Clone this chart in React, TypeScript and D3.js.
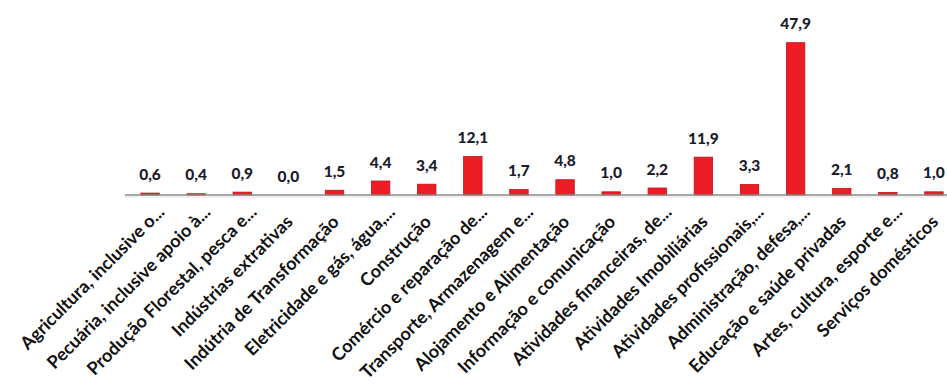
import React from "react";
import * as d3 from "d3";

const categories: string[] = [
  "Agricultura, inclusive o...",
  "Pecuária, inclusive apoio à...",
  "Produção Florestal, pesca e...",
  "Indústrias extrativas",
  "Indútria de Transformação",
  "Eletricidade e gás, água,...",
  "Construção",
  "Comércio e reparação de...",
  "Transporte, Armazenagem e...",
  "Alojamento e Alimentação",
  "Informação e comunicação",
  "Atividades financeiras, de...",
  "Atividades Imobiliárias",
  "Atividades profissionais,...",
  "Administração, defesa,...",
  "Educação e saúde privadas",
  "Artes, cultura, esporte e...",
  "Serviços domésticos",
];

const values: number[] = [
  0.6, 0.4, 0.9, 0.0, 1.5, 4.4, 3.4, 12.1, 1.7, 4.8, 1.0, 2.2, 11.9, 3.3, 47.9, 2.1, 0.8, 1.0,
];

const W = 947;
const H = 387;
const baseY = 195;
const font = "Lato, 'Open Sans', sans-serif";

const fmt = (v: number) => v.toFixed(1).replace(".", ",");
// shortened category names keep a trailing gap after the ellipsis
const isTruncated = (s: string) => s.endsWith("...");

export default function App() {
  const x = d3
    .scaleBand<string>()
    .domain(categories)
    .range([127, 957])
    .paddingInner(0.6)
    .paddingOuter(0.3);
  const y = d3.scaleLinear().domain([0, 50]).range([baseY, 36]);

  return (
    <svg
      width={W}
      height={H}
      style={{ position: "fixed", left: 0, top: 0, background: "#fff" }}
    >
      <rect width={W} height={H} fill="#fff" />
      {values.map((v, i) => {
        const c = categories[i];
        const x0 = x(c)!;
        const top = y(v);
        return (
          <g key={c}>
            {v > 0 && (
              <rect
                x={x0}
                y={top}
                width={x.bandwidth()}
                height={baseY - top}
                fill="#ee1c25"
                stroke="#c0121a"
                strokeWidth={0.8}
              />
            )}
            <text
              x={x0 + x.bandwidth() / 2}
              y={top - 13.5}
              textAnchor="middle"
              fontFamily={font}
              fontWeight={900}
              fontSize={15.5}
              fill="#1c1c2c"
            >
              {fmt(v)}
            </text>
          </g>
        );
      })}
      <line x1={125} x2={W} y1={baseY} y2={baseY} stroke="#8a8a8a" strokeWidth={1.5} />
      <line x1={125} x2={W} y1={baseY + 2} y2={baseY + 2} stroke="#e4e4e4" strokeWidth={1} />
      {categories.map((c) => {
        const cx = x(c)! + x.bandwidth() / 2;
        const ax = cx + 5.5;
        const ay = 223;
        return (
          <text
            key={c}
            transform={`translate(${ax},${ay}) rotate(-45)`}
            x={isTruncated(c) ? 14 : 0}
            textAnchor="end"
            fontFamily={font}
            fontWeight={700}
            fontSize={18}
            fill="#111"
          >
            {c}
          </text>
        );
      })}
    </svg>
  );
}
